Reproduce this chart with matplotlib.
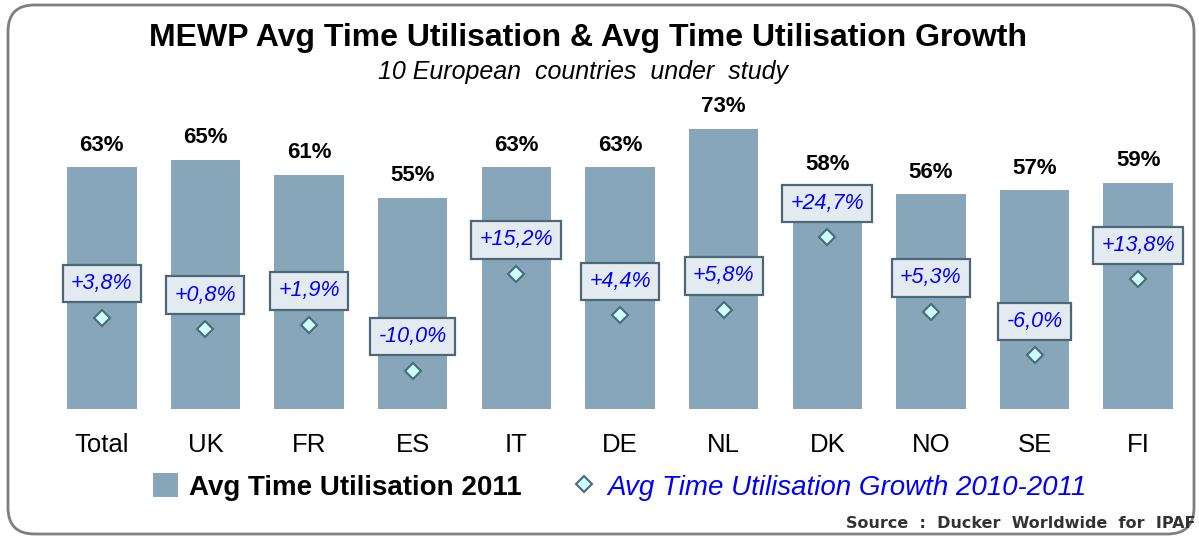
import matplotlib
matplotlib.use('Agg')
import matplotlib.pyplot as plt
from matplotlib.patches import FancyBboxPatch, Patch
from matplotlib.lines import Line2D

plt.rcParams['font.family'] = ['Liberation Sans', 'DejaVu Sans']

countries = ['Total', 'UK', 'FR', 'ES', 'IT', 'DE', 'NL', 'DK', 'NO', 'SE', 'FI']
utilisation = [63, 65, 61, 55, 63, 63, 73, 58, 56, 57, 59]
growth = [3.8, 0.8, 1.9, -10.0, 15.2, 4.4, 5.8, 24.7, 5.3, -6.0, 13.8]

bar_color = '#87a6b9'
W, H = 1199, 537
fig = plt.figure(figsize=(W / 100, H / 100), dpi=100)

# rounded frame behind everything
frame = FancyBboxPatch((8 / W, 3 / H), 1186 / W, 529 / H,
                       boxstyle='round,pad=0,rounding_size=0.022',
                       transform=fig.transFigure, facecolor='none',
                       edgecolor='#7f7f7f', linewidth=2, mutation_aspect=W / H, zorder=-5)
fig.patches.append(frame)

ax = fig.add_axes([50 / W, (H - 409) / H, 1140 / W, 307 / H])
ax.patch.set_alpha(0)
x = range(len(countries))
ax.bar(x, utilisation, width=0.67, color=bar_color)
ax.set_xlim(-0.5, 10.5)
ax.set_ylim(0, 80)
for s in ax.spines.values():
    s.set_visible(False)
ax.set_yticks([])
ax.set_xticks(list(x))
ax.set_xticklabels(countries, fontsize=18.5)
ax.tick_params(axis='x', length=0, pad=17)

for i, v in enumerate(utilisation):
    ax.annotate(f'{v}%', (i, v), xytext=(0, 22), textcoords='offset pixels',
                ha='center', va='center', fontsize=16, fontweight='bold')

# growth on a secondary axis, zero sits at 20% of the primary scale
ax2 = ax.twinx()
ax2.set_ylim(-20, 60)
ax2.set_axis_off()
ax2.plot(list(x), growth, linestyle='none', marker='D', markersize=8,
         markerfacecolor='#ccffff', markeredgecolor='#4b6a7a', markeredgewidth=1.5)
for i, g in enumerate(growth):
    lbl = f'{g:+.1f}%'.replace('.', ',')
    ax2.annotate(lbl, (i, g), xytext=(0, 34), textcoords='offset pixels',
                 ha='center', va='center', fontsize=15.5, style='italic', color='#0000ff',
                 bbox=dict(boxstyle='square,pad=0.38', facecolor='#e4ebf0',
                           edgecolor='#4a6878', linewidth=1.6))

fig.text(588 / W, (H - 38) / H, 'MEWP Avg Time Utilisation & Avg Time Utilisation Growth',
         ha='center', va='center', fontsize=23, fontweight='bold')
fig.text(583 / W, (H - 72) / H, '10 European  countries  under  study',
         ha='center', va='center', fontsize=18, style='italic')

handles = [Patch(facecolor=bar_color, edgecolor='none'),
           Line2D([], [], linestyle='none', marker='D', markersize=8,
                  markerfacecolor='#ccffff', markeredgecolor='#4b6a7a', markeredgewidth=1.5)]
leg = fig.legend(handles, ['Avg Time Utilisation 2011', 'Avg Time Utilisation Growth 2010-2011'],
                 loc='center', bbox_to_anchor=(620 / W, (H - 487) / H), ncol=2,
                 frameon=False, fontsize=20, handlelength=0.9, handleheight=0.9,
                 handletextpad=0.4, columnspacing=1.8)
t1, t2 = leg.get_texts()
t1.set_fontweight('bold')
t2.set_style('italic')
t2.set_color('#0000ff')

fig.text(1195 / W, (H - 524) / H, 'Source  :  Ducker  Worldwide  for  IPAF',
         ha='right', va='center', fontsize=11.5, fontweight='bold', color='#333333',
         family='DejaVu Sans')

fig.savefig('out.png', dpi=100)
